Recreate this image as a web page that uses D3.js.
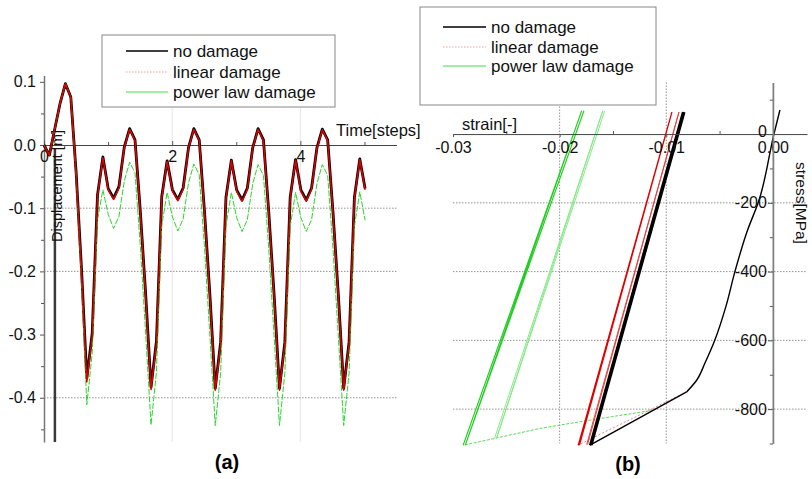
<!DOCTYPE html>
<html>
<head>
<meta charset="utf-8">
<script src="https://cdn.jsdelivr.net/npm/d3@7"></script>
<style>
  body { margin: 0; background: #fff; }
  svg { display: block; font-family: "Liberation Sans", Arial, sans-serif; }
</style>
</head>
<body>
<svg id="chart" width="812" height="479"></svg>
<script>
/* globals d3 */

// ---- (a) displacement vs time ----
const timeSteps = [
  0, 0.084, 0.167, 0.251, 0.334, 0.418, 0.501, 0.585, 0.668, 0.752,
  0.835, 0.919, 1.002, 1.086, 1.169, 1.253, 1.336, 1.420, 1.503, 1.587,
  1.670, 1.754, 1.837, 1.921, 2.004, 2.088, 2.171, 2.255, 2.338, 2.422,
  2.505, 2.589, 2.672, 2.756, 2.839, 2.923, 3.006, 3.090, 3.173, 3.257,
  3.340, 3.424, 3.507, 3.591, 3.674, 3.758, 3.841, 3.925, 4.008, 4.092,
  4.175, 4.259, 4.342, 4.426, 4.509, 4.593, 4.676, 4.760, 4.843, 4.927,
  5.010
];
const noDamageDisp = [
  0, -0.016, 0.025, 0.066, 0.097, 0.076, -0.043, -0.196, -0.369, -0.298,
  -0.079, -0.019, -0.069, -0.084, -0.066, -0.003, 0.026, 0.008, -0.105, -0.237,
  -0.383, -0.311, -0.082, -0.025, -0.071, -0.086, -0.068, -0.004, 0.026, 0.008,
  -0.106, -0.238, -0.385, -0.312, -0.083, -0.024, -0.071, -0.087, -0.068, -0.004,
  0.026, 0.008, -0.106, -0.238, -0.385, -0.312, -0.083, -0.023, -0.071, -0.087,
  -0.068, -0.004, 0.025, 0.008, -0.106, -0.238, -0.385, -0.312, -0.083, -0.022,
  -0.069
];
const linearDamageDisp = [
  0, -0.016, 0.025, 0.066, 0.097, 0.076, -0.044, -0.199, -0.375, -0.302,
  -0.081, -0.020, -0.071, -0.086, -0.068, -0.004, 0.025, 0.007, -0.107, -0.240,
  -0.387, -0.314, -0.084, -0.026, -0.073, -0.088, -0.070, -0.005, 0.025, 0.007,
  -0.108, -0.241, -0.388, -0.315, -0.085, -0.025, -0.073, -0.089, -0.070, -0.005,
  0.025, 0.007, -0.108, -0.241, -0.388, -0.315, -0.085, -0.024, -0.073, -0.089,
  -0.070, -0.005, 0.024, 0.007, -0.108, -0.241, -0.388, -0.315, -0.085, -0.023,
  -0.071
];
const powerLawDisp = [
  0, -0.016, 0.025, 0.066, 0.097, 0.076, -0.048, -0.215, -0.411, -0.330,
  -0.118, -0.071, -0.110, -0.132, -0.113, -0.057, -0.027, -0.044, -0.160, -0.300,
  -0.443, -0.360, -0.128, -0.075, -0.114, -0.136, -0.117, -0.060, -0.030, -0.047,
  -0.163, -0.303, -0.444, -0.361, -0.129, -0.075, -0.115, -0.137, -0.118, -0.061,
  -0.031, -0.048, -0.164, -0.304, -0.444, -0.361, -0.129, -0.075, -0.115, -0.137,
  -0.118, -0.061, -0.031, -0.048, -0.164, -0.304, -0.444, -0.361, -0.129, -0.074,
  -0.119
];
const dispTicks = [0.1, 0, -0.1, -0.2, -0.3, -0.4];
const dispMinorTicks = [0.05, -0.05, -0.15, -0.25, -0.35, -0.45];
const dispGrid = [-0.1, -0.2, -0.4];
const timeTicks = [0, 2, 4];
const timeMinorTicks = [1, 3, 5];
const timeGrid = [2, 4];
const markerTime = 0.17; // the dark vertical rule next to the axis

// ---- (b) stress vs strain, [strain, stress MPa] ----
const noDamageLoading = [
  [0.00066, 70], [0.0001, 0], [-0.00138, -200], [-0.00237, -279], [-0.00356, -400],
  [-0.00441, -502], [-0.00544, -599], [-0.00637, -666], [-0.00715, -716],
  [-0.00809, -750]
];
const noDamageSoftening = [[-0.00809, -750], [-0.01715, -905]];
const noDamageCycles = [
  [-0.01715, -905], [-0.00843, 64], [-0.01702, -905], [-0.00830, 64]
];
const linearLoading = [[-0.00809, -750], [-0.0183, -905]];
const linearCycleA = [[-0.01825, -905], [-0.00947, 64], [-0.01815, -905]];
const linearCycleB = [[-0.01746, -903], [-0.00881, 64], [-0.01738, -903]];
const powerLawLoading = [
  [-0.01119, -803], [-0.01715, -832], [-0.02184, -856], [-0.02605, -885], [-0.02905, -905]
];
const powerLawCycleA = [[-0.02905, -905], [-0.01793, 68], [-0.02885, -905], [-0.01772, 68]];
const powerLawCycleB = [[-0.02610, -885], [-0.01595, 68], [-0.02592, -885], [-0.01577, 68]];
const strainTicks = [-0.03, -0.02, -0.01, 0];
const strainMinorTicks = [-0.025, -0.015, -0.005];
const strainGrid = [-0.02, -0.01];
const stressTicks = [0, -200, -400, -600, -800];
const stressMinorTicks = [100, -100, -300, -500, -700, -900];
const stressGrid = [-200, -400, -600, -800];

const legendLabels = ['no damage', 'linear damage', 'power law damage'];

const svg = d3.select('#chart');
svg.append('rect').attr('width', 812).attr('height', 479).attr('fill', '#fff');

// ================= panel (a) =================
const xA = d3.scaleLinear().domain([0, 5.5]).range([44, 396.5]);
const yA = d3.scaleLinear().domain([0.11, -0.47]).range([75.5, 442]);

const gA = svg.append('g');

gA.selectAll('.vgrid').data(timeGrid).enter().append('line')
  .attr('x1', d => xA(d)).attr('x2', d => xA(d))
  .attr('y1', yA(0.11)).attr('y2', yA(-0.47))
  .attr('stroke', '#e6e6e6').attr('stroke-width', 1);

gA.selectAll('.hgrid').data(dispGrid).enter().append('line')
  .attr('x1', xA(0)).attr('x2', xA(5.5))
  .attr('y1', d => yA(d)).attr('y2', d => yA(d))
  .attr('stroke', '#777').attr('stroke-width', 0.8)
  .attr('stroke-dasharray', '1.5,1.5');

// y axis
const yAxisA = gA.append('g')
  .attr('transform', `translate(${xA(0)},0)`)
  .call(d3.axisLeft(yA).tickValues(dispTicks).tickFormat(d => d.toFixed(1))
    .tickSizeInner(4).tickSizeOuter(0).tickPadding(4));
gA.append('g')
  .attr('transform', `translate(${xA(0)},0)`)
  .call(d3.axisLeft(yA).tickValues(dispMinorTicks).tickFormat('')
    .tickSizeInner(3).tickSizeOuter(0))
  .select('.domain').remove();

// x axis
gA.append('g')
  .attr('transform', `translate(0,${yA(0)})`)
  .call(d3.axisBottom(xA).tickValues(timeTicks).tickFormat(d3.format('d'))
    .tickSizeInner(-4).tickSizeOuter(0).tickPadding(6));
gA.append('g')
  .attr('transform', `translate(0,${yA(0)})`)
  .call(d3.axisBottom(xA).tickValues(timeMinorTicks).tickFormat('')
    .tickSizeInner(-3).tickSizeOuter(0))
  .select('.domain').remove();

gA.append('text')
  .attr('x', 336).attr('y', 136)
  .attr('font-size', 16.5).attr('fill', '#111')
  .text('Time[steps]');

gA.append('line')
  .attr('x1', xA(markerTime)).attr('x2', xA(markerTime))
  .attr('y1', yA(-0.005)).attr('y2', yA(-0.47))
  .attr('stroke', '#3a3a3a').attr('stroke-width', 2.5);

gA.append('text')
  .attr('transform', `translate(62,186) rotate(-90)`)
  .attr('text-anchor', 'middle')
  .attr('font-size', 14.5).attr('fill', '#111')
  .text('Displacement [m]');

const lineA = d3.line().x((d, i) => xA(timeSteps[i])).y(d => yA(d));

gA.append('path').datum(noDamageDisp)
  .attr('d', lineA).attr('fill', 'none')
  .attr('stroke', '#000').attr('stroke-width', 2.8).attr('stroke-linejoin', 'round');
gA.append('path').datum(powerLawDisp)
  .attr('d', lineA).attr('fill', 'none')
  .attr('stroke', '#2bd62b').attr('stroke-width', 1)
  .attr('stroke-dasharray', '6,1.5');
gA.append('path').datum(linearDamageDisp)
  .attr('d', lineA).attr('fill', 'none')
  .attr('stroke', '#dd0000').attr('stroke-width', 1.5).attr('stroke-linejoin', 'round');

// ================= panel (b) =================
const xB = d3.scaleLinear().domain([-0.03, 0.0032]).range([453, 807]);
const yB = d3.scaleLinear().domain([150, -900]).range([82.5, 443.5]);

const gB = svg.append('g');

gB.selectAll('.vgrid').data(strainGrid).enter().append('line')
  .attr('x1', d => xB(d)).attr('x2', d => xB(d))
  .attr('y1', yB(150)).attr('y2', yB(-900))
  .attr('stroke', '#777').attr('stroke-width', 0.8)
  .attr('stroke-dasharray', '1.5,1.5');
gB.selectAll('.hgrid').data(stressGrid).enter().append('line')
  .attr('x1', xB(-0.03)).attr('x2', xB(0.0032))
  .attr('y1', d => yB(d)).attr('y2', d => yB(d))
  .attr('stroke', '#777').attr('stroke-width', 0.8)
  .attr('stroke-dasharray', '1.5,1.5');

const lineB = d3.line().x(d => xB(d[0])).y(d => yB(d[1]));
const smoothB = d3.line().x(d => xB(d[0])).y(d => yB(d[1])).curve(d3.curveMonotoneY);

const seriesB = [
  { pts: powerLawLoading, stroke: '#55dd55', width: 1, dash: '3,1.5' },
  { pts: powerLawCycleB, stroke: '#88e888', width: 1 },
  { pts: powerLawCycleA, stroke: '#22cc22', width: 1.1 },
  { pts: linearLoading, stroke: '#f08080', width: 1, dash: '2,2' },
  { pts: noDamageLoading, stroke: '#000', width: 1.4, smooth: true },
  { pts: noDamageSoftening, stroke: '#000', width: 1.4 },
  { pts: noDamageCycles, stroke: '#000', width: 2.3 },
  { pts: linearCycleA, stroke: '#e00000', width: 1.3 },
  { pts: linearCycleB, stroke: '#e84040', width: 1 }
];
gB.selectAll('.series').data(seriesB).enter().append('path')
  .attr('d', d => (d.smooth ? smoothB : lineB)(d.pts)).attr('fill', 'none')
  .attr('stroke', d => d.stroke).attr('stroke-width', d => d.width)
  .attr('stroke-dasharray', d => d.dash || null);

// x axis (strain)
gB.append('g')
  .attr('transform', `translate(0,${yB(0)})`)
  .call(d3.axisBottom(xB).tickValues(strainTicks)
    .tickFormat(d => d === 0 ? '0.00' : d.toFixed(2))
    .tickSizeInner(3).tickSizeOuter(0).tickPadding(5));
gB.append('g')
  .attr('transform', `translate(0,${yB(0)})`)
  .call(d3.axisBottom(xB).tickValues(strainMinorTicks).tickFormat('')
    .tickSizeInner(-3).tickSizeOuter(0))
  .select('.domain').remove();

// y axis (stress)
const yAxisB = gB.append('g')
  .attr('transform', `translate(${xB(0)},0)`)
  .call(d3.axisLeft(yB).tickValues(stressTicks).tickFormat(d3.format('d'))
    .tickSizeInner(5).tickSizeOuter(0).tickPadding(1));
gB.append('g')
  .attr('transform', `translate(${xB(0)},0)`)
  .call(d3.axisLeft(yB).tickValues(stressMinorTicks).tickFormat('')
    .tickSizeInner(3).tickSizeOuter(0))
  .select('.domain').remove();

gB.append('text')
  .attr('x', 462).attr('y', 130)
  .attr('font-size', 16.5).attr('fill', '#111')
  .text('strain[-]');
gB.append('text')
  .attr('transform', 'translate(796,203) rotate(90)')
  .attr('text-anchor', 'middle')
  .attr('font-size', 15.5).attr('fill', '#111')
  .text('stress[MPa]');

// shared axis styling
svg.selectAll('.tick text')
  .attr('font-size', 16).attr('fill', '#111')
  .attr('font-family', '"Liberation Sans", Arial, sans-serif');
svg.selectAll('.tick text').each(function () {
  // hyphen instead of the unicode minus
  const t = d3.select(this);
  t.text(t.text().replace('\u2212', '-'));
});
svg.selectAll('.tick line').attr('stroke', '#555');
svg.selectAll('.domain').attr('stroke', '#444').attr('stroke-width', 1);
yAxisA.select('.domain').attr('stroke', '#777').attr('stroke-width', 1.5);
yAxisB.select('.domain').attr('stroke', '#808080').attr('stroke-width', 1.8);
// lift the stress "0" a little so it clears the "0.00" strain label
yAxisB.selectAll('.tick text').filter(d => d === 0).attr('dy', '0.15em');

// ================= legends =================
const legendStyles = [
  { stroke: '#000', width: 1.6, dash: null },
  { stroke: '#f0a0a0', width: 1, dash: '1.5,1.5' },
  { stroke: '#44dd44', width: 1, dash: null }
];

function drawLegend(box, rows, lineX, textX) {
  const g = svg.append('g');
  g.append('rect')
    .attr('x', box[0]).attr('y', box[1]).attr('width', box[2]).attr('height', box[3])
    .attr('fill', '#fff').attr('stroke', '#888').attr('stroke-width', 1);
  const row = g.selectAll('.row').data(legendLabels).enter().append('g')
    .attr('transform', (d, i) => `translate(0,${rows[i]})`);
  row.append('line')
    .attr('x1', lineX[0]).attr('x2', lineX[1])
    .attr('stroke', (d, i) => legendStyles[i].stroke)
    .attr('stroke-width', (d, i) => legendStyles[i].width)
    .attr('stroke-dasharray', (d, i) => legendStyles[i].dash);
  row.append('text')
    .attr('x', textX).attr('dy', '0.35em')
    .attr('font-size', 17).attr('fill', '#111')
    .text(d => d);
}
drawLegend([102, 35, 233, 72], [51, 72, 92], [126, 168], 173);
drawLegend([420, 7, 236, 98], [27, 47, 66], [443, 486], 491);

// captions
svg.append('text').attr('x', 227).attr('y', 469)
  .attr('text-anchor', 'middle').attr('font-size', 20).attr('font-weight', 'bold')
  .text('(a)');
svg.append('text').attr('x', 628).attr('y', 471)
  .attr('text-anchor', 'middle').attr('font-size', 20).attr('font-weight', 'bold')
  .text('(b)');
</script>
</body>
</html>
